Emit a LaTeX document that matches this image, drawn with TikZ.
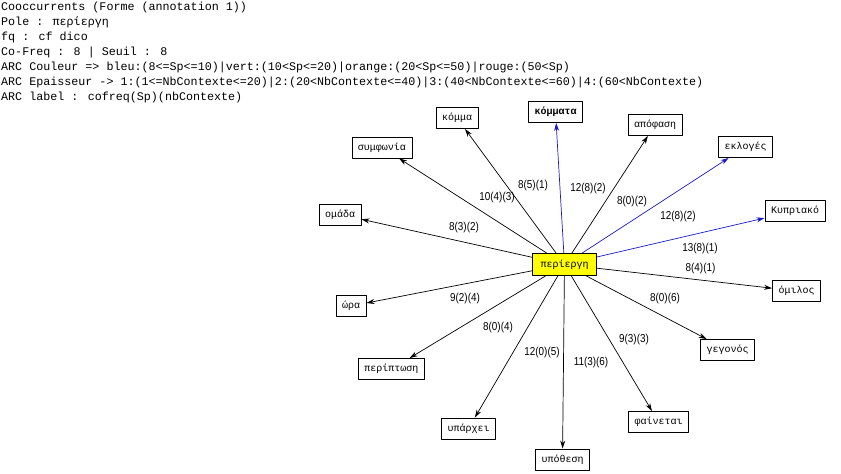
\documentclass[tikz,border=0pt]{standalone}
\usepackage{fontspec}
\setmainfont{Liberation Sans}
\newfontfamily\monofont{Liberation Mono}
\newfontfamily\labelfont{Liberation Sans}[FakeStretch=0.86]
\usetikzlibrary{arrows.meta}

\definecolor{arcblue}{RGB}{25,25,200}
\definecolor{poleyellow}{RGB}{255,255,0}

\begin{document}
\begin{tikzpicture}[line join=round, x=1pt, y=-1pt,
    wordbox/.style={draw=black, fill=white, line width=0.9pt, inner xsep=6pt, inner ysep=0pt,
      minimum height=21pt, font=\monofont\fontsize{10}{11}\selectfont},
    polebox/.style={wordbox, fill=poleyellow, inner xsep=8pt, minimum height=22pt},
    cooc/.style={draw=black, line width=0.7pt, -{Stealth[length=8pt,width=5pt]}},
    coocblue/.style={cooc, draw=arcblue},
    arclabel/.style={inner sep=0pt, font=\labelfont\fontsize{11.5}{13}\selectfont}]
    % Parameters
    \def\cx{564.5}       % centre of the pole word
    \def\cy{264.5}
    \useasboundingbox (0,0) rectangle (841,474);

    % header text
    \node[anchor=north west, inner sep=0pt, align=left,
      font=\monofont\fontsize{11.7}{14.9}\selectfont] (header) at (1,2)
      {Cooccurrents (Forme (annotation 1))\\
       Pole : περίεργη\\
       fq : cf dico\\
       Co-Freq : 8 | Seuil : 8\\
       ARC Couleur => bleu:(8<=Sp<=10)|vert:(10<Sp<=20)|orange:(20<Sp<=50)|rouge:(50<Sp)\\
       ARC Epaisseur -> 1:(1<=NbContexte<=20)|2:(20<NbContexte<=40)|3:(40<NbContexte<=60)|4:(60<NbContexte)\\
       ARC label : cofreq(Sp)(nbContexte)};

    % pole and the cooccurring words
    \node[polebox] (pole) at (\cx,\cy) {περίεργη};
    \foreach \nm/\px/\py/\txt in {symf/382/147.5/συμφωνία, komma/457/118/κόμμα,
        kommata/555.5/112/{\bfseries κόμματα}, apof/655/125/απόφαση, ekl/745.5/147/εκλογές,
        kypr/795/211/Κυπριακό, omil/796.5/291/όμιλος, geg/727.5/350/γεγονός,
        fain/658.5/422/φαίνεται, ypoth/562.5/459.5/υπόθεση, yparx/468.5/428.5/υπάρχει,
        perip/391.5/369/περίπτωση, ora/351/306/ώρα, omad/340/214.5/ομάδα} {
      \node[wordbox] (\nm) at (\px,\py) {\txt};
    }

    % arcs (blue when 8<=Sp<=10)
    \foreach \nm in {symf,komma,apof,omil,geg,fain,ypoth,yparx,perip,ora,omad} {
      \draw[cooc] (pole) -- (\nm);
    }
    \foreach \nm in {kommata,ekl,kypr} {
      \draw[coocblue] (pole) -- (\nm);
    }

    % arc labels
    \foreach \nm/\px/\py/\txt in {lomad/464/227.5/8(3)(2), lsymf/497/198/10(4)(3),
        lkomma/533/186/8(5)(1), lkommata/588/189/12(8)(2), lapof/632/202/8(0)(2),
        lekl/678/217/12(8)(2), lkypr/700/249/13(8)(1), lomil/700.5/268.5/8(4)(1),
        lgeg/665/299/8(0)(6), lfain/634/340/9(3)(3), lypoth/591/362.5/11(3)(6),
        lyparx/542/353/12(0)(5), lperip/498/327.5/8(0)(4), lora/465/299/9(2)(4)} {
      \node[arclabel] (\nm) at (\px,\py) {\txt};
    }
  \end{tikzpicture}
\end{document}
